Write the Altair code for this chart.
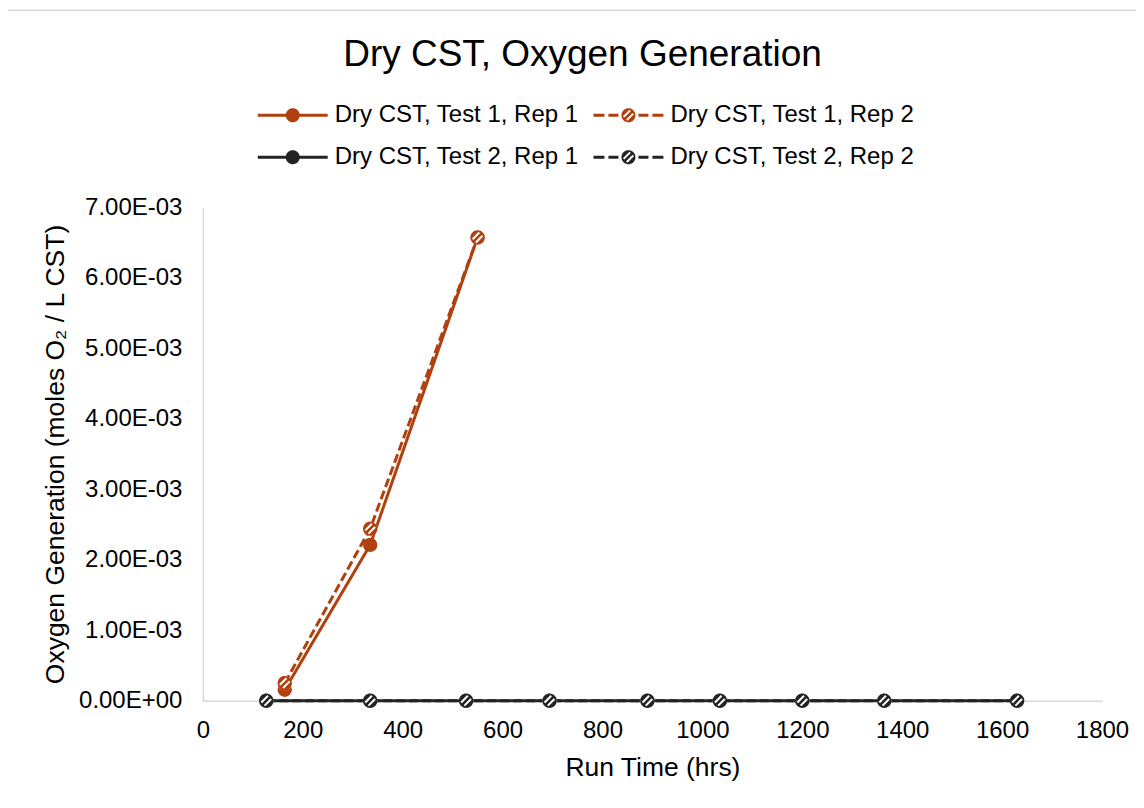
import math
import altair as alt
import pandas as pd

# ---------------- data ----------------
series_names = [
    "Dry CST, Test 1, Rep 1",
    "Dry CST, Test 1, Rep 2",
    "Dry CST, Test 2, Rep 1",
    "Dry CST, Test 2, Rep 2",
]
t1r1_x = [164, 335, 550]
t1r1_y = [0.000156, 0.00221, 0.00657]
t1r2_x = [164, 335, 550]
t1r2_y = [0.00025, 0.00244, 0.00657]
t2r1_x = [127, 335, 527, 694, 890, 1035, 1200, 1364, 1630]
t2r1_y = [0.0, 0.0, 0.0, 0.0, 0.0, 0.0, 0.0, 0.0, 0.0]
t2r2_x = [127, 335, 527, 694, 890, 1035, 1200, 1364, 1630]
t2r2_y = [0.0, 0.0, 0.0, 0.0, 0.0, 0.0, 0.0, 0.0, 0.0]
x_ticks = [0, 200, 400, 600, 800, 1000, 1200, 1400, 1600, 1800]
y_ticks = [0.0, 0.001, 0.002, 0.003, 0.004, 0.005, 0.006, 0.007]

rows = []
for name, xs, ys, rep in [
    (series_names[0], t1r1_x, t1r1_y, 1),
    (series_names[1], t1r2_x, t1r2_y, 2),
    (series_names[2], t2r1_x, t2r1_y, 1),
    (series_names[3], t2r2_x, t2r2_y, 2),
]:
    for xv, yv in zip(xs, ys):
        rows.append({"series": name, "t": xv, "o2": yv, "rep": rep})
df = pd.DataFrame(rows)

ORANGE = "#B0400E"
BLACK = "#232323"
colors = [ORANGE, ORANGE, BLACK, BLACK]
FONT = "Liberation Sans"

# ---------------- marker shapes (unit-square SVG paths) ----------------
def area(pts):
    s = 0.0
    for i in range(len(pts)):
        x1, y1 = pts[i]
        x2, y2 = pts[(i + 1) % len(pts)]
        s += x1 * y2 - x2 * y1
    return s

def poly(pts, positive=True):
    if (area(pts) > 0) != positive:
        pts = pts[::-1]
    return "M" + "L".join(f"{x:.3f},{y:.3f}" for x, y in pts) + "Z"

def circle(r=1.0, n=40):
    return poly([(r * math.cos(2 * math.pi * k / n), r * math.sin(2 * math.pi * k / n)) for k in range(n)])

def rect(x0, x1, h):
    return poly([(x0, -h), (x1, -h), (x1, h), (x0, h)])

def holes(offsets=(-0.32, 0.32), w=0.28, rin=0.80):
    n = (0.7071, 0.7071)
    v = (0.7071, -0.7071)
    out = ""
    a = w / 2
    for d in offsets:
        c = (d * n[0], d * n[1])
        h = math.sqrt(max(rin ** 2 - (abs(d) + a) ** 2, 0.01))
        pts = [
            (c[0] - a * n[0] - h * v[0], c[1] - a * n[1] - h * v[1]),
            (c[0] - a * n[0] + h * v[0], c[1] - a * n[1] + h * v[1]),
            (c[0] + a * n[0] + h * v[0], c[1] + a * n[1] + h * v[1]),
            (c[0] + a * n[0] - h * v[0], c[1] + a * n[1] - h * v[1]),
        ]
        out += poly(pts, positive=False)
    return out

HATCHED = circle() + holes()
LT = 0.214  # half line thickness in units (unit = 7px)
LEG_SOLID = rect(-5, -0.95, LT) + rect(0.95, 5, LT) + circle()
LEG_DASHED = (rect(-5, -3.43, LT) + rect(-2.86, -1.43, LT) + rect(1.43, 2.86, LT)
              + rect(3.43, 5, LT) + HATCHED)
legend_shapes = [LEG_SOLID, LEG_DASHED, LEG_SOLID, LEG_DASHED]

# ---------------- chart ----------------
xenc = alt.X("t:Q", scale=alt.Scale(domain=[0, 1800], nice=False),
             axis=alt.Axis(values=x_ticks, title="Run Time (hrs)", format="d",
                           titleX=450, titleY=67, titleBaseline="middle",
                           labelPadding=30, labelBaseline="middle", labelFlush=False))
yenc = alt.Y("o2:Q", scale=alt.Scale(domain=[0, 0.007], nice=False),
             axis=alt.Axis(values=y_ticks,
                           title="Oxygen Generation (moles O\u2082 / L CST)",
                           labelExpr="datum.value == 0 ? '0.00E+00' : format(datum.value*1000, '.2f') + 'E-03'",
                           titleX=-147, titleY=247, titleAngle=-90,
                           titleBaseline="middle", titleAlign="center",
                           labelPadding=21, labelFlush=False))

cscale = alt.Scale(domain=series_names, range=colors)

lines = alt.Chart(df).mark_line(strokeWidth=3).encode(
    x=xenc, y=yenc,
    stroke=alt.Stroke("series:N", scale=alt.Scale(domain=series_names, range=colors), legend=None),
    strokeDash=alt.StrokeDash("series:N", scale=alt.Scale(domain=series_names,
                              range=[[1, 0], [9, 4], [1, 0], [9, 4]]), legend=None),
    order="t:Q",
)

mk1 = alt.Chart(df).transform_filter("datum.rep == 1").mark_point(
    shape="circle", filled=True, size=205, opacity=1, strokeWidth=0
).encode(x="t:Q", y="o2:Q", color=alt.Color("series:N", scale=cscale, legend=None))

mk2base = alt.Chart(df).transform_filter("datum.rep == 2").mark_point(
    shape="circle", filled=True, size=205, opacity=1, strokeWidth=0, color="white"
).encode(x="t:Q", y="o2:Q")

mk2 = alt.Chart(df).transform_filter("datum.rep == 2").mark_point(
    shape=HATCHED, filled=True, size=205, opacity=1, strokeWidth=0
).encode(x="t:Q", y="o2:Q", color=alt.Color("series:N", scale=cscale, legend=None))

# legend layer: invisible points (fillOpacity 0 through the encoding) whose
# fill + shape scales produce the legend; their domain comes from the data
legend_layer = alt.Chart(df).mark_point(filled=True, size=196, strokeWidth=0, opacity=1).encode(
    x="t:Q", y="o2:Q",
    fillOpacity=alt.value(0),
    fill=alt.Fill("series:N", scale=alt.Scale(range=colors),
                  legend=alt.Legend(title=None, orient="none", legendX=78, legendY=-104,
                                    direction="horizontal",
                                    columns=2, rowPadding=18, columnPadding=14,
                                    labelOffset=30, symbolSize=196, symbolStrokeWidth=0,
                                    symbolOpacity=1,
                                    labelFontSize=24, labelFont=FONT,
                                    labelColor="#000000", labelLimit=500, padding=0)),
    shape=alt.Shape("series:N", scale=alt.Scale(range=legend_shapes)),
)

border = alt.Chart(pd.DataFrame({"a": [0]})).mark_rect(
    filled=False, stroke="#d9d9d9", strokeWidth=1.5
).encode(x=alt.value(-196), x2=alt.value(980), y=alt.value(-197), y2=alt.value(660))

chart = alt.layer(border, lines, mk1, mk2base, mk2, legend_layer).properties(
    width=900, height=494,
    background="white",
    padding={"left": 195, "top": 199, "right": 34, "bottom": 99},
    autosize=alt.AutoSizeParams(type="none"),
    title=alt.TitleParams("Dry CST, Oxygen Generation", fontSize=37, font=FONT,
                          fontWeight="normal", color="#000000", anchor="middle",
                          frame="group", dx=-70, offset=-64),
).configure_view(stroke=None).configure_axis(
    grid=False, ticks=False, tickSize=0, domainColor="#d9d9d9", domainWidth=1.5,
    labelFont=FONT, labelFontSize=24, labelColor="#000000",
    titleFont=FONT, titleFontSize=26.5, titleFontWeight="normal", titleColor="#000000",
)

chart.save("out.html", embed_options={"renderer": "svg", "actions": False})
